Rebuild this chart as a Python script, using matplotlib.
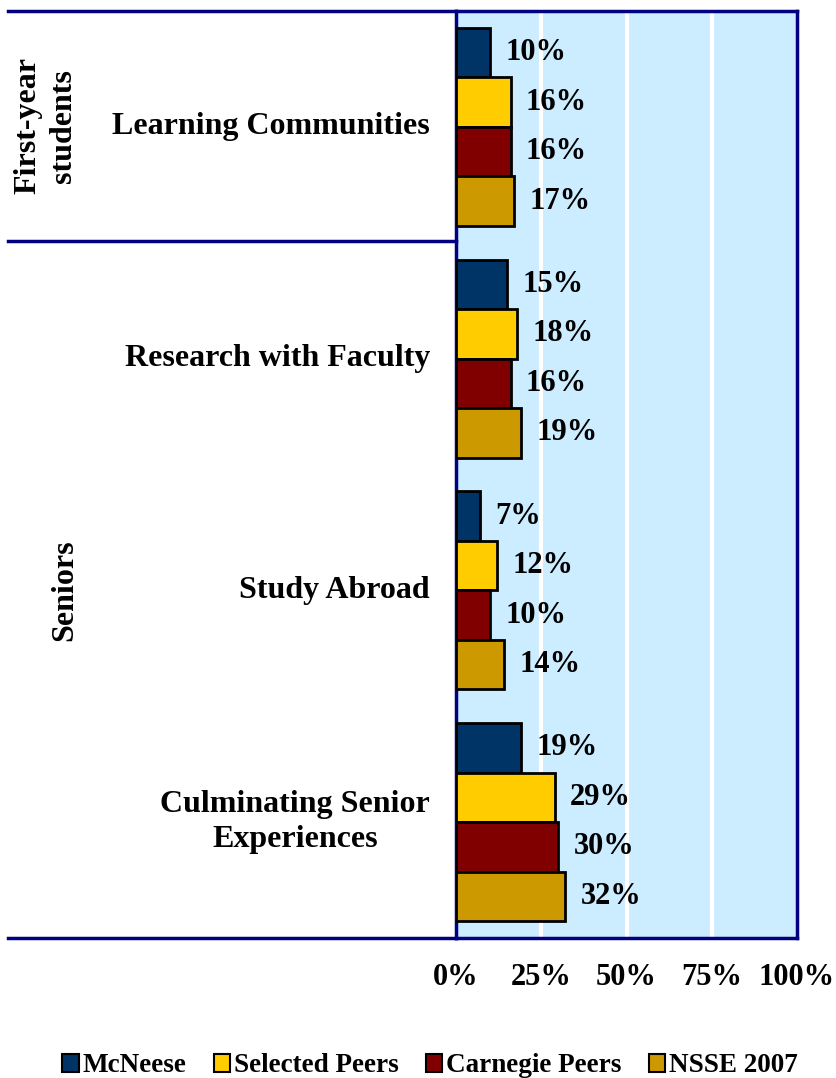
import matplotlib.pyplot as plt
import numpy as np
from matplotlib.lines import Line2D
from matplotlib.patches import Patch

plt.rcParams['font.family'] = ['Liberation Serif', 'DejaVu Serif']
plt.rcParams['font.weight'] = 'bold'

categories = ["Learning Communities", "Research with Faculty", "Study Abroad",
              "Culminating Senior\nExperiences"]
series = ["McNeese", "Selected Peers", "Carnegie Peers", "NSSE 2007"]
mcneese = [10, 15, 7, 19]
selected_peers = [16, 18, 12, 29]
carnegie_peers = [16, 16, 10, 30]
nsse_2007 = [17, 19, 14, 32]
xticks = [0, 25, 50, 75, 100]
colors = ["#003366", "#FFCC00", "#800000", "#CC9900"]
navy = "#000080"

W, H = 836, 1078
fig = plt.figure(figsize=(W / 100, H / 100), dpi=100)


def fx(px):
    return px / W


def fy(py):
    return 1 - py / H


ax = fig.add_axes([fx(456), fy(938), fx(797) - fx(456), fy(11) - fy(938)])
ax.set_facecolor("#CCECFF")

values = [mcneese, selected_peers, carnegie_peers, nsse_2007]
bar_h = 0.2137
ypos = np.arange(len(categories))
for i, (name, vals, col) in enumerate(zip(series, values, colors)):
    y = ypos + (i - 1.5) * bar_h
    ax.barh(y, vals, height=bar_h, color=col, edgecolor="black", linewidth=2,
            zorder=3, label=name)
    for yy, v in zip(y, vals):
        ax.annotate(f"{v}%", (v, yy), xytext=(11, 0), textcoords="offset points",
                    va="center", ha="left", fontsize=22, fontweight="bold",
                    zorder=4)

ax.set_xlim(0, 100)
ax.set_ylim(len(categories) - 0.5, -0.5)
ax.set_yticks([])
ax.set_xticks(xticks)
ax.set_xticklabels([f"{t}%" for t in xticks], fontsize=22, fontweight="bold")
ax.tick_params(axis="x", length=0, pad=18)
for t in xticks[1:-1]:
    ax.axvline(t, color="white", linewidth=3, zorder=1)
for s in ax.spines.values():
    s.set_color(navy)
    s.set_linewidth(2.5)

# left table lines
for py, x1 in [(11, 456), (241, 456), (938, 456)]:
    fig.add_artist(Line2D([fx(8), fx(x1)], [fy(py), fy(py)], color=navy,
                          linewidth=2.5))

# category labels
group_h = (938 - 11) / 4
for i, cat in enumerate(categories):
    cy = 11 + group_h * (i + 0.5)
    fig.text(fx(430), fy(cy), cat, ha="right", va="center",
             multialignment="center", fontsize=23, fontweight="bold",
             linespacing=1.3)

fig.text(fx(46), fy(126), "First-year\nstudents", rotation=90, ha="center",
         va="center", fontsize=23, fontweight="bold", linespacing=1.3)
fig.text(fx(65), fy(590), "Seniors", rotation=90, ha="center", va="center",
         fontsize=23, fontweight="bold")

handles = [Patch(facecolor=c, edgecolor="black", linewidth=1.5) for c in colors]
fig.legend(handles, series, loc="center", bbox_to_anchor=(fx(430), fy(1066)),
           ncol=4, frameon=False, handlelength=0.6, handleheight=0.6,
           handletextpad=0.15, columnspacing=1.0,
           prop={"size": 19.5, "weight": "bold"})

fig.savefig("out.png", dpi=100)
